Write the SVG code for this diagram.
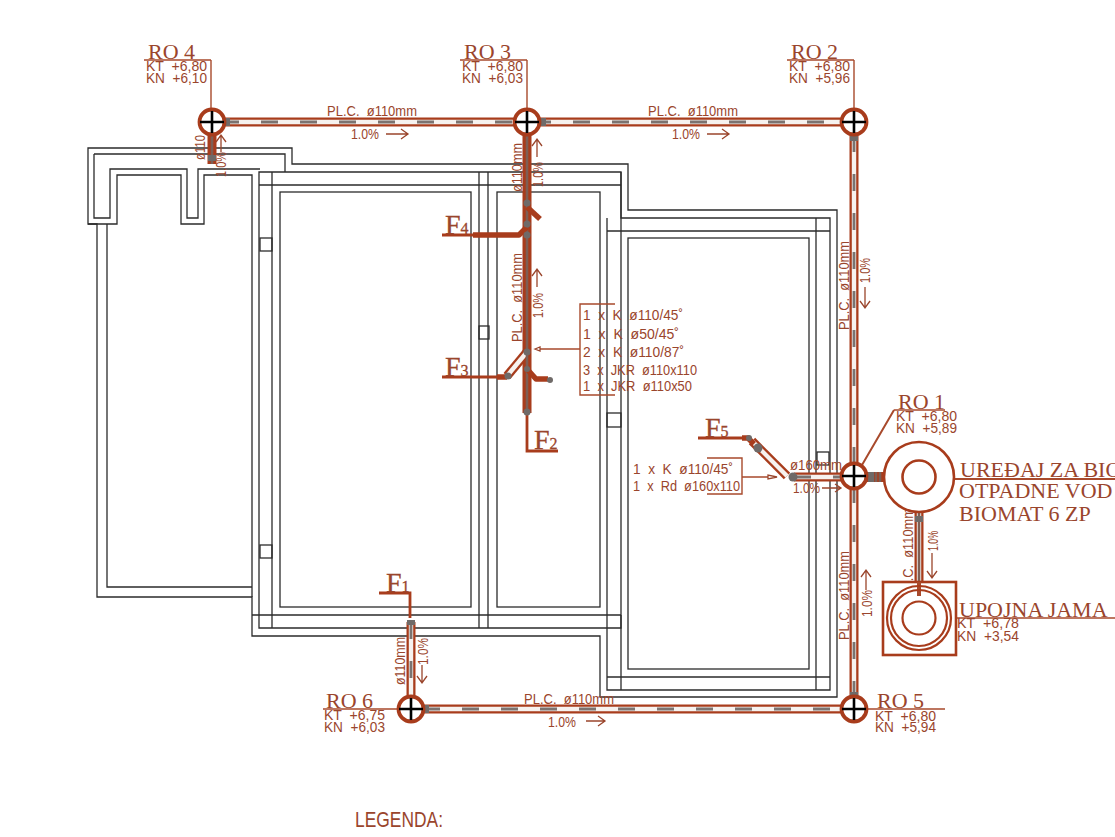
<svg xmlns="http://www.w3.org/2000/svg" width="1115" height="837" viewBox="0 0 1115 837">
<style>
text{fill:#9a452c;font-family:"Liberation Sans",Arial,sans-serif;font-size:14px;white-space:pre}
.k{font-size:15px}
.s{font-family:"Liberation Serif","Times New Roman",serif;font-size:22px}
.f{font-family:"Liberation Serif","Times New Roman",serif;font-size:28px;stroke:#9a452c;stroke-width:.3}
.f tspan{font-size:16px}
.w{fill:none;stroke:#2b2b2b;stroke-width:1.3}
.po{fill:none;stroke:#a83c1c;stroke-width:9}
.pw{fill:none;stroke:#f6f2ef;stroke-width:4.4}
.pd{fill:none;stroke:#7b7370;stroke-width:2.8;stroke-dasharray:17 22}
.pg{fill:none;stroke:#7d5f55;stroke-width:2.6}
.b{fill:none;stroke:#a83c1c;stroke-width:5.5;stroke-linejoin:round}
.l{fill:none;stroke:#a84a2c;stroke-width:1.4}
.t{fill:none;stroke:#a83c1c;stroke-width:2.8}
.a{fill:none;stroke:#9a452c;stroke-width:1.3}
.g{fill:#6f6a68}
.ring{fill:#fff;stroke:#a83c1c;stroke-width:3.8}
.cross{fill:none;stroke:#000;stroke-width:2.6}
.c{fill:#fff;stroke:#a83c1c;stroke-width:2.6}
</style>
<defs>
<g id="mh"><circle r="12.5" class="ring"/><path d="M-12 0H12M0-11V11" class="cross"/></g>
<path id="p1" d="M222 122H842"/>
<path id="p2" d="M854 135V696"/>
<path id="p3" d="M423 709H842"/>
<path id="p4" d="M411 622V696"/>
<path id="p5" d="M919 512V595"/>
<path id="p6" d="M212 135V164"/>
<path id="p7" d="M527 135V413"/>
<path id="p8" d="M794 477H842"/>
<path id="p9" d="M752 441L787 476"/>
<path id="p10" d="M507 376L527 352"/>
</defs>

<g id="walls">
<path class="w" d="M88 148H292V164H628V210H837V697H600V636H252V597H97V224H88Z"/>
<path class="w" d="M94 154H285V172H621V218H830V690H607V615M621 615V628H259V172H621"/>
<path class="w" d="M94 154V218H110V169H187V218H198V169H260"/>
<path class="w" d="M88 224H117V175H181V224H204V175H252V597"/>
<path class="w" d="M107 224V587H252"/>
<path class="w" d="M272 172V628M259 185H621M252 615H621M607 231H830M607 677H830M607 218V615M621 172V690M816 218V690M479 172V628M488 172V628"/>
<rect class="w" x="280" y="192" width="191" height="415"/>
<rect class="w" x="497" y="192" width="103" height="415"/>
<rect class="w" x="628" y="238" width="181" height="431"/>
<rect class="w" x="260" y="238" width="12" height="13"/>
<rect class="w" x="260" y="545" width="12" height="13"/>
<rect class="w" x="479" y="326" width="10" height="13"/>
<rect class="w" x="607" y="413" width="14" height="14"/>
<rect class="w" x="817" y="452" width="12" height="13"/>
</g>

<g id="connectors">
<g class="po"><use href="#p1"/><use href="#p2"/><use href="#p3"/><use href="#p4"/><use href="#p5"/><use href="#p6"/><use href="#p7"/><use href="#p8"/><use href="#p9"/><use href="#p10"/></g>
<g class="pw"><use href="#p1"/><use href="#p2"/><use href="#p3"/><use href="#p4"/><use href="#p5"/><use href="#p8"/><use href="#p9"/><use href="#p10"/></g>
<g class="pd"><use href="#p1"/><use href="#p2"/><use href="#p3"/><use href="#p4"/><use href="#p8"/></g>
<g class="pg"><use href="#p5"/><use href="#p6"/><use href="#p7"/></g>
<path class="b" d="M473 235H519L527 227"/>
<path class="b" d="M527 207L540 219"/>
<path class="b" d="M527 369L536 379H548"/>
<path class="b" d="M497 377H507M742 438H748L754 444"/>
<path class="po" style="stroke-width:10" d="M867 477H884"/>
<path class="pg" d="M876 472V482M880 472V482"/>
<path class="t" d="M442 235H474M442 377H498M698 438H748M527 415V451H558M379 593H410V618"/>
<g class="g">
<circle cx="527" cy="203" r="3.5"/><circle cx="527" cy="224" r="3.5"/><circle cx="527" cy="235" r="3.5"/><circle cx="527" cy="352" r="3.5"/><circle cx="527" cy="412" r="3.5"/><circle cx="508" cy="376" r="3.5"/><circle cx="527" cy="369" r="3"/><circle cx="550" cy="380" r="3"/><circle cx="758" cy="448" r="4.5"/><circle cx="749" cy="438" r="3"/><circle cx="793" cy="477" r="4.5"/>
<rect x="225" y="118" width="5" height="8"/><rect x="541" y="118" width="5" height="8"/><rect x="424" y="705" width="5" height="8"/><rect x="407" y="620" width="8" height="5"/><rect x="915" y="516" width="8" height="6"/><rect x="208" y="155" width="8" height="6"/><rect x="850" y="136" width="8" height="5"/><rect x="850" y="692" width="8" height="5"/><rect x="868" y="472" width="6" height="10"/>
</g>
<path class="l" d="M211 60V110M144 60H211M527 60V110M460 60H527M854 60V110M787 60H854M894 410H945M323 709H398M866 709H945M956 618H1115"/>
<path class="l" style="stroke-width:2" d="M862 465L894 410M955 479H1115"/>
<path class="l" d="M615 304H580V395H615M580 349H540M707 458H742V494H707M742 477H768"/>
<path class="a" d="M535 349L540 347V351ZM777 477L768 475V479Z"/>
<path class="a" d="M386 134H408M401 129L408 134L401 139M707 134H729M722 129L729 134L722 139M586 721H605M598 716L605 721L598 726M822 488H841M835 484L841 488L835 492M221 152V135M216 142L221 135L226 142M537 157V139M532 146L537 139L542 146M537 287V269M532 276L537 269L542 276M865 287V308M860 301L865 308L870 301M866 590V570M861 577L866 570L871 577M932 553V578M927 571L932 578L937 571M422 665V683M417 676L422 683L427 676"/>
</g>

<g id="pipe-labels">
<text x="327" y="116" textLength="90" lengthAdjust="spacingAndGlyphs">PL.C.  ø110mm</text>
<text x="351" y="139" textLength="28" lengthAdjust="spacingAndGlyphs">1.0%</text>
<text x="648" y="116" textLength="90" lengthAdjust="spacingAndGlyphs">PL.C.  ø110mm</text>
<text x="672" y="139" textLength="28" lengthAdjust="spacingAndGlyphs">1.0%</text>
<text x="524" y="704" textLength="90" lengthAdjust="spacingAndGlyphs">PL.C.  ø110mm</text>
<text x="548" y="727" textLength="28" lengthAdjust="spacingAndGlyphs">1.0%</text>
<text transform="translate(205 160) rotate(-90)" textLength="25" lengthAdjust="spacingAndGlyphs">ø110</text>
<text transform="translate(226 177) rotate(-90)" textLength="25" lengthAdjust="spacingAndGlyphs">1.0%</text>
<text transform="translate(522 192) rotate(-90)" textLength="49" lengthAdjust="spacingAndGlyphs">ø110mm</text>
<text transform="translate(543 187) rotate(-90)" textLength="25" lengthAdjust="spacingAndGlyphs">1.0%</text>
<text transform="translate(522 342) rotate(-90)" textLength="89" lengthAdjust="spacingAndGlyphs">PL.C.  ø110mm</text>
<text transform="translate(543 318) rotate(-90)" textLength="25" lengthAdjust="spacingAndGlyphs">1.0%</text>
<text transform="translate(849 330) rotate(-90)" textLength="89" lengthAdjust="spacingAndGlyphs">PL.C.  ø110mm</text>
<text transform="translate(870 283) rotate(-90)" textLength="25" lengthAdjust="spacingAndGlyphs">1.0%</text>
<text transform="translate(849 640) rotate(-90)" textLength="89" lengthAdjust="spacingAndGlyphs">PL.C.  ø110mm</text>
<text transform="translate(872 617) rotate(-90)" textLength="27" lengthAdjust="spacingAndGlyphs">1.0%</text>
<text transform="translate(913 597) rotate(-90)" textLength="89" lengthAdjust="spacingAndGlyphs">PL.C.  ø110mm</text>
<text transform="translate(938 551) rotate(-90)" textLength="20" lengthAdjust="spacingAndGlyphs">1.0%</text>
<text transform="translate(405 685) rotate(-90)" textLength="48" lengthAdjust="spacingAndGlyphs">ø110mm</text>
<text transform="translate(428 665) rotate(-90)" textLength="27" lengthAdjust="spacingAndGlyphs">1.0%</text>
<text x="790" y="470" textLength="52" lengthAdjust="spacingAndGlyphs">ø160mm</text>
<text x="793" y="493" textLength="27" lengthAdjust="spacingAndGlyphs">1.0%</text>
</g>

<g id="fittings-list">
<text x="583" y="320" textLength="100" lengthAdjust="spacingAndGlyphs">1  x  K  ø110/45˚</text>
<text x="583" y="339" textLength="96" lengthAdjust="spacingAndGlyphs">1  x  K  ø50/45˚</text>
<text x="583" y="357" textLength="101" lengthAdjust="spacingAndGlyphs">2  x  K  ø110/87˚</text>
<text x="583" y="375" textLength="114" lengthAdjust="spacingAndGlyphs">3  x  JKR  ø110x110</text>
<text x="583" y="391" textLength="109" lengthAdjust="spacingAndGlyphs">1  x  JKR  ø110x50</text>
<text x="633" y="474" textLength="100" lengthAdjust="spacingAndGlyphs">1  x  K  ø110/45˚</text>
<text x="633" y="491" textLength="107" lengthAdjust="spacingAndGlyphs">1  x  Rd  ø160x110</text>
</g>

<g id="F1"><text class="f" x="386" y="592">F<tspan>1</tspan></text></g>
<g id="F2"><text class="f" x="534" y="449">F<tspan>2</tspan></text></g>
<g id="F3"><text class="f" x="445" y="376">F<tspan>3</tspan></text></g>
<g id="F4"><text class="f" x="445" y="234">F<tspan>4</tspan></text></g>
<g id="F5"><text class="f" x="705" y="437">F<tspan>5</tspan></text></g>

<g id="RO4"><use href="#mh" x="212" y="122"/><text class="s" x="148" y="59">RO 4</text><text class="k" x="146" y="71" textLength="61" lengthAdjust="spacingAndGlyphs">KT  +6,80</text><text class="k" x="146" y="83" textLength="61" lengthAdjust="spacingAndGlyphs">KN  +6,10</text></g>
<g id="RO3"><use href="#mh" x="527" y="122"/><text class="s" x="464" y="59">RO 3</text><text class="k" x="462" y="71" textLength="61" lengthAdjust="spacingAndGlyphs">KT  +6,80</text><text class="k" x="462" y="83" textLength="61" lengthAdjust="spacingAndGlyphs">KN  +6,03</text></g>
<g id="RO2"><use href="#mh" x="854" y="122"/><text class="s" x="791" y="59">RO 2</text><text class="k" x="789" y="71" textLength="61" lengthAdjust="spacingAndGlyphs">KT  +6,80</text><text class="k" x="789" y="83" textLength="61" lengthAdjust="spacingAndGlyphs">KN  +5,96</text></g>
<g id="RO1"><use href="#mh" x="854" y="476"/><text class="s" x="898" y="409">RO 1</text><text class="k" x="896" y="421" textLength="61" lengthAdjust="spacingAndGlyphs">KT  +6,80</text><text class="k" x="896" y="433" textLength="61" lengthAdjust="spacingAndGlyphs">KN  +5,89</text></g>
<g id="RO5"><use href="#mh" x="854" y="709"/><text class="s" x="877" y="708">RO 5</text><text class="k" x="875" y="721" textLength="61" lengthAdjust="spacingAndGlyphs">KT  +6,80</text><text class="k" x="875" y="732" textLength="61" lengthAdjust="spacingAndGlyphs">KN  +5,94</text></g>
<g id="RO6"><use href="#mh" x="411" y="709"/><text class="s" x="326" y="708">RO 6</text><text class="k" x="324" y="720" textLength="61" lengthAdjust="spacingAndGlyphs">KT  +6,75</text><text class="k" x="324" y="732" textLength="61" lengthAdjust="spacingAndGlyphs">KN  +6,03</text></g>

<g id="biomat">
<circle class="c" cx="919" cy="477" r="35"/><circle class="c" cx="919" cy="477" r="16.5"/>
<text class="s" x="960" y="477">UREĐAJ ZA BIO</text>
<text class="s" x="959" y="498">OTPADNE VOD</text>
<text class="s" x="959" y="521">BIOMAT 6 ZP</text>
</g>
<g id="upojna-jama">
<rect class="c" x="883" y="582" width="73" height="73"/>
<path class="l" style="stroke-width:4" d="M919 582V596"/>
<circle cx="919" cy="618" r="32" fill="none" stroke="#a83c1c" stroke-width="2.2"/>
<circle cx="919" cy="618" r="28" fill="none" stroke="#a83c1c" stroke-width="2.2"/>
<circle cx="919" cy="618" r="16.5" fill="none" stroke="#a83c1c" stroke-width="2.2"/>
<text class="s" x="959" y="617">UPOJNA JAMA</text>
<text class="k" x="957" y="628" textLength="62" lengthAdjust="spacingAndGlyphs">KT  +6,78</text>
<text class="k" x="957" y="641" textLength="62" lengthAdjust="spacingAndGlyphs">KN  +3,54</text>
</g>
<text id="legenda" x="355" y="827" style="font-size:22px" textLength="88" lengthAdjust="spacingAndGlyphs">LEGENDA:</text>
</svg>
